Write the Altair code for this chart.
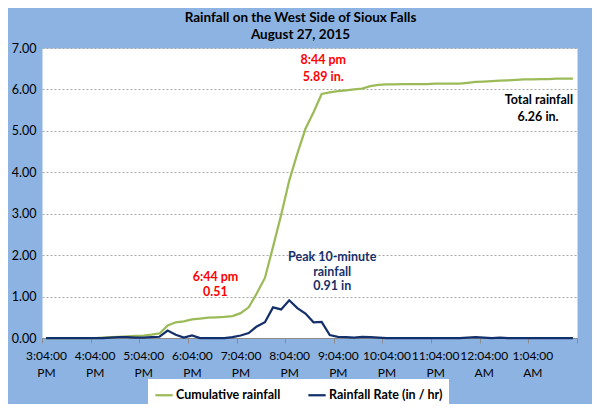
import altair as alt
import pandas as pd

# ---- data (10-minute steps starting 3:04 PM) ----
minutes = [10 * i for i in range(66)]

cumulative = [
    0, 0, 0, 0, 0, 0, 0, 0.01, 0.02, 0.03,
    0.04, 0.05, 0.06, 0.08, 0.11, 0.30, 0.38, 0.40, 0.45, 0.47,
    0.49, 0.50, 0.51, 0.53, 0.60, 0.74, 1.08, 1.45, 2.20, 2.97,
    3.80, 4.45, 5.05, 5.45, 5.89, 5.93, 5.96, 5.98, 6.00, 6.02,
    6.08, 6.11, 6.12, 6.12, 6.13, 6.13, 6.13, 6.13, 6.14, 6.14,
    6.14, 6.14, 6.16, 6.18, 6.19, 6.20, 6.21, 6.22, 6.23, 6.24,
    6.24, 6.25, 6.25, 6.26, 6.26, 6.26,
]

rate = [
    0, 0, 0, 0, 0, 0, 0, 0, 0.01, 0.02,
    0.02, 0.01, 0.01, 0.02, 0.03, 0.18, 0.08, 0.01, 0.06, 0.0,
    0, 0, 0, 0.02, 0.06, 0.12, 0.28, 0.38, 0.74, 0.69,
    0.91, 0.72, 0.59, 0.38, 0.39, 0.07, 0.03, 0.02, 0.01, 0.03,
    0.02, 0.01, 0, 0, 0, 0, 0, 0, 0, 0,
    0, 0, 0.01, 0.02, 0.01, 0, 0.01, 0, 0, 0,
    0, 0, 0, 0, 0, 0,
]

series_names = ["Cumulative rainfall", "Rainfall Rate (in / hr)"]
series_colors = ["#9BBB59", "#14306B"]

x_tick_labels = [
    "3:04:00 PM", "4:04:00 PM", "5:04:00 PM", "6:04:00 PM", "7:04:00 PM",
    "8:04:00 PM", "9:04:00 PM", "10:04:00 PM", "11:04:00 PM", "12:04:00 AM",
    "1:04:00 AM",
]
y_ticks = [0, 1, 2, 3, 4, 5, 6, 7]

# annotations
ann_text = ["8:44 pm", "5.89 in.", "6:44 pm", "0.51",
            "Peak 10-minute", "rainfall", "0.91 in",
            "Total rainfall", "6.26 in."]
ann_x = [342, 342, 209, 209, 353, 353, 353, 608, 607]
ann_y = [6.71, 6.30, 1.48, 1.12, 1.95, 1.60, 1.26, 5.74, 5.33]
ann_color = ["#FF0000", "#FF0000", "#FF0000", "#FF0000",
             "#17306A", "#17306A", "#17306A", "#000000", "#000000"]

# ---- tables ----
df = pd.DataFrame({
    "minute": minutes * 2,
    "value": cumulative + rate,
    "series": [series_names[0]] * len(minutes) + [series_names[1]] * len(minutes),
})
ann = pd.DataFrame({"x": ann_x, "y": ann_y, "text": ann_text, "color": ann_color})

tick_values = [-5 + 60 * k for k in range(12)]
label_arr = "[" + ",".join(
    "['" + s.split(" ")[0] + "','" + s.split(" ")[1] + "']" for s in x_tick_labels
) + "]"
label_expr = label_arr + "[round((datum.value + 5) / 60)] || ''"

x_scale = alt.Scale(domain=[-5, 655], nice=False, zero=False)
y_scale = alt.Scale(domain=[0, 7], nice=False)

lines = alt.Chart(df).mark_line(strokeWidth=2.25).encode(
    x=alt.X("minute:Q", scale=x_scale, title=None,
            axis=alt.Axis(values=tick_values, labelExpr=label_expr,
                          labelOffset=4, labelFlush=False, labelOverlap=False,
                          labelBound=False, grid=False, domainColor="#8C8C8C",
                          tickColor="#8C8C8C", tickSize=5, labelPadding=7,
                          labelFont="Lato", labelFontSize=12, labelColor="#000000",
                          labelLineHeight=17, labelBaseline="top")),
    y=alt.Y("value:Q", scale=y_scale, title=None,
            axis=alt.Axis(values=y_ticks, format=".2f", domain=False, ticks=False,
                          tickSize=0, labelPadding=6, grid=True,
                          gridColor="#A6A6A6", gridDash=[2, 2], gridWidth=1,
                          labelFont="Lato", labelFontSize=12.5, labelColor="#000000")),
    color=alt.Color("series:N",
                    scale=alt.Scale(domain=series_names, range=series_colors),
                    sort=series_names,
                    legend=alt.Legend(title=None, orient="none", direction="horizontal",
                                      legendX=106, legendY=331, fillColor="white",
                                      padding=6, symbolType="stroke",
                                      symbolStrokeWidth=2.25, symbolSize=300,
                                      labelFont="Lato", labelFontSize=12.5,
                                      labelFontWeight="bold", labelColor="#000000",
                                      columnPadding=22, labelOffset=2)),
)

texts = alt.Chart(ann).mark_text(font="Lato", fontSize=12.5, fontWeight="bold",
                                 baseline="middle", align="center").encode(
    x=alt.X("x:Q", scale=x_scale),
    y=alt.Y("y:Q", scale=y_scale),
    text="text:N",
    color=alt.Color("color:N", scale=None, legend=None),
)

chart = alt.layer(lines, texts).resolve_scale(color="independent").properties(
    width=535,
    height=290,
    padding={"left": 34, "top": 40, "right": 15, "bottom": 66},
    autosize=alt.AutoSizeParams(type="none"),
    background="#8DB3E2",
    title=alt.Title(text=["Rainfall on the West Side of Sioux Falls", "August 27, 2015"],
                    font="Lato", fontSize=13.5, fontWeight="bold", color="#000000",
                    anchor="middle", offset=1, dx=-9, lineHeight=17),
).configure_view(fill="white", stroke="transparent")

chart.save("out.html", embed_options={"renderer": "svg", "actions": False})
